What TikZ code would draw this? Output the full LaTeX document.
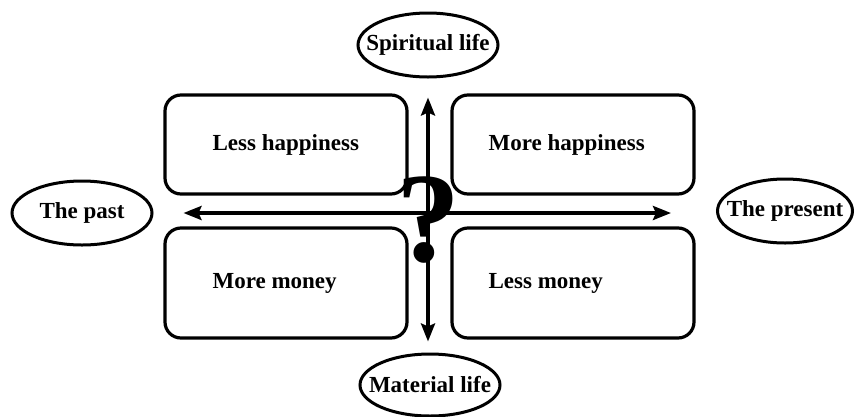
\documentclass[tikz,border=0pt]{standalone}
\usepackage{fontspec}
\setmainfont{Liberation Serif}
\usetikzlibrary{shapes, arrows.meta, positioning, calc}

\begin{document}
\begin{tikzpicture}[
    x=1pt, y=-1pt,
    block/.style={rectangle, draw, line width=3.2pt, rounded corners=16pt, minimum width=242pt},
    oval/.style={ellipse, draw, line width=3pt, minimum width=140pt, minimum height=64pt, inner xsep=-13pt, font=\bfseries\fontsize{23}{26}\selectfont},
    lbl/.style={font=\bfseries\fontsize{23}{27}\selectfont, inner sep=0pt},
    arrow/.style={{Stealth[length=18pt, width=14pt, inset=3pt]}-{Stealth[length=18pt, width=14pt, inset=3pt]}, line width=3.6pt}
]
\useasboundingbox (0,0) rectangle (855,416);

% four quadrants
\node[block, minimum height=99pt] (tl) at (286,144.5) {};
\node[block, minimum height=99pt] (tr) at (573,144.5) {};
\node[block, minimum height=110pt] (bl) at (286,283) {};
\node[block, minimum height=110pt] (br) at (573,283) {};

\node[lbl, right=49pt of tl.west] (lesshap) {Less happiness};
\node[lbl, right=38pt of tr.west] (morehap) {More happiness};
\node[lbl, right=49pt of bl.west] (moremoney) {More money};
\node[lbl, right=38pt of br.west] (lessmoney) {Less money};

% the two axes
\node[oval] (spirit) at (428,45) {Spiritual life};
\node[oval, minimum height=62pt] (material) at (430,385) {Material life};
\node[oval] (past) at (82,213) {The past};
\node[oval, minimum width=135pt] (present) at (785,211) {The present};

\draw[arrow, shorten <=30pt, shorten >=45pt] (past.east) -- (past.east -| present.west);
\draw[arrow, shorten <=19pt, shorten >=11pt] (spirit.south) -- (spirit.south |- material.north);

\node[font=\bfseries\fontsize{128}{128}\selectfont, inner sep=0pt, anchor=base] (quest) at (428,261) {?};

\end{tikzpicture}
\end{document}
